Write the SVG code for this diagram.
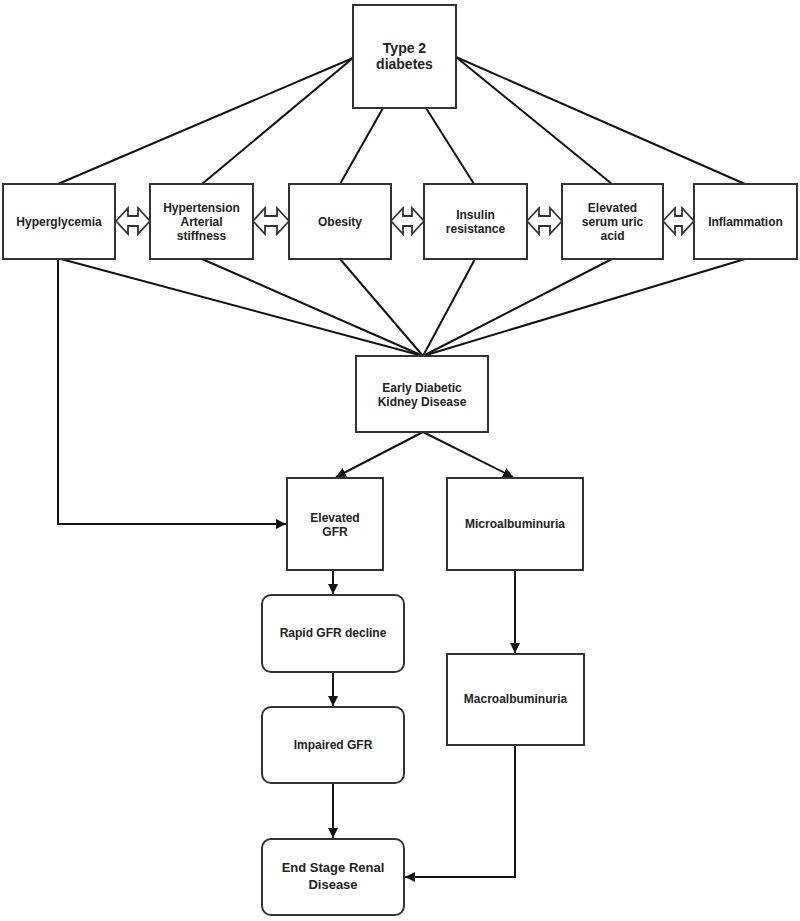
<svg xmlns="http://www.w3.org/2000/svg" width="800" height="921" viewBox="0 0 800 921">
<style>
.box{fill:#fff;stroke:#333;stroke-width:2}
.t{font-family:"Liberation Sans",Arial,sans-serif;font-weight:bold;font-size:12px;fill:#222;text-anchor:middle}
.big{font-size:14px}
.mid{font-size:13px}
.ln{fill:none;stroke:#111;stroke-width:2}
.dbl{fill:#fff;stroke:#333;stroke-width:1.8;stroke-linejoin:miter}
</style>
<defs>
<marker id="ah" viewBox="0 0 10 10" refX="10" refY="5" markerWidth="5" markerHeight="5" orient="auto" markerUnits="strokeWidth">
<path d="M0,0 L10,5 L0,10 z" fill="#111"/>
</marker>
</defs>
<rect width="800" height="921" fill="#fff"/>
<g id="connectors">
<line class="ln" x1="353" y1="58" x2="58" y2="184"/>
<line class="ln" x1="353" y1="58" x2="202" y2="184"/>
<line class="ln" x1="383" y1="108" x2="340" y2="184"/>
<line class="ln" x1="426" y1="108" x2="474" y2="184"/>
<line class="ln" x1="456" y1="57" x2="612" y2="184"/>
<line class="ln" x1="456" y1="57" x2="745" y2="184"/>
<line class="ln" x1="61" y1="259" x2="423" y2="356"/>
<line class="ln" x1="202" y1="259" x2="423" y2="356"/>
<line class="ln" x1="340" y1="259" x2="423" y2="356"/>
<line class="ln" x1="475" y1="259" x2="423" y2="356"/>
<line class="ln" x1="612" y1="259" x2="423" y2="356"/>
<line class="ln" x1="745" y1="259" x2="423" y2="356"/>
<path class="ln" d="M58,259 V524 H286" marker-end="url(#ah)"/>
<line class="ln" x1="423" y1="432" x2="336" y2="477" marker-end="url(#ah)"/>
<line class="ln" x1="423" y1="432" x2="513" y2="477" marker-end="url(#ah)"/>
<line class="ln" x1="333" y1="570" x2="333" y2="594" marker-end="url(#ah)"/>
<line class="ln" x1="333" y1="672" x2="333" y2="706" marker-end="url(#ah)"/>
<line class="ln" x1="333" y1="783" x2="333" y2="838" marker-end="url(#ah)"/>
<line class="ln" x1="515" y1="570" x2="515" y2="653" marker-end="url(#ah)"/>
<path class="ln" d="M515,745 V877 H405" marker-end="url(#ah)"/>
<polygon class="dbl" points="116,221 128,208 128,216 138,216 138,208 150,221 138,234 138,226 128,226 128,234"/>
<polygon class="dbl" points="253,221 265,208 265,216 277,216 277,208 289,221 277,234 277,226 265,226 265,234"/>
<polygon class="dbl" points="391,221 403,208 403,216 412,216 412,208 424,221 412,234 412,226 403,226 403,234"/>
<polygon class="dbl" points="527,221 539,208 539,216 550,216 550,208 562,221 550,234 550,226 539,226 539,234"/>
<polygon class="dbl" points="663,221 675,208 675,216 682,216 682,208 694,221 682,234 682,226 675,226 675,234"/>
</g>
<g id="type2">
<rect class="box" x="353" y="5" width="103" height="103"/>
<text class="t big" x="404.5" y="53">Type 2</text>
<text class="t big" x="404.5" y="69">diabetes</text>
</g>
<g id="hyperglycemia">
<rect class="box" x="3" y="184" width="112" height="75"/>
<text class="t" x="59" y="226">Hyperglycemia</text>
</g>
<g id="hypertension">
<rect class="box" x="150" y="184" width="103" height="75"/>
<text class="t" x="201.5" y="212">Hypertension</text>
<text class="t" x="201.5" y="226">Arterial</text>
<text class="t" x="201.5" y="240">stiffness</text>
</g>
<g id="obesity">
<rect class="box" x="289" y="184" width="102" height="75"/>
<text class="t" x="340" y="226">Obesity</text>
</g>
<g id="insulin">
<rect class="box" x="424" y="184" width="103" height="75"/>
<text class="t" x="475.5" y="219">Insulin</text>
<text class="t" x="475.5" y="233">resistance</text>
</g>
<g id="uric">
<rect class="box" x="562" y="184" width="101" height="75"/>
<text class="t" x="612.5" y="212">Elevated</text>
<text class="t" x="612.5" y="226">serum uric</text>
<text class="t" x="612.5" y="240">acid</text>
</g>
<g id="inflammation">
<rect class="box" x="694" y="184" width="103" height="75"/>
<text class="t" x="745.5" y="226">Inflammation</text>
</g>
<g id="edkd">
<rect class="box" x="356" y="356" width="132" height="76"/>
<text class="t" x="422" y="392">Early Diabetic</text>
<text class="t" x="422" y="406">Kidney Disease</text>
</g>
<g id="egfr">
<rect class="box" x="287" y="478" width="96" height="92"/>
<text class="t" x="335" y="522">Elevated</text>
<text class="t" x="335" y="536">GFR</text>
</g>
<g id="micro">
<rect class="box" x="447" y="478" width="136" height="92"/>
<text class="t" x="515" y="528">Microalbuminuria</text>
</g>
<g id="rapid">
<rect class="box" x="262" y="595" width="142" height="77" rx="9"/>
<text class="t" x="333" y="637">Rapid GFR decline</text>
</g>
<g id="macro">
<rect class="box" x="447" y="654" width="137" height="91"/>
<text class="t" x="515.5" y="703">Macroalbuminuria</text>
</g>
<g id="impaired">
<rect class="box" x="262" y="707" width="142" height="76" rx="9"/>
<text class="t" x="333" y="749">Impaired GFR</text>
</g>
<g id="esrd">
<rect class="box" x="262" y="839" width="142" height="76" rx="9"/>
<text class="t mid" x="333" y="872">End Stage Renal</text>
<text class="t mid" x="333" y="889">Disease</text>
</g>
</svg>
